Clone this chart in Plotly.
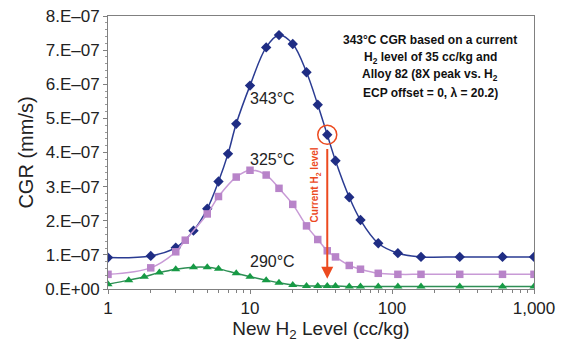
import math
import plotly.graph_objects as go

# ---- data (values of CGR in mm/s) ----
h2_343 = [1, 2, 3, 4, 5, 6, 7, 8, 10, 13, 16, 20, 25, 30, 35, 40, 50, 60, 80, 110, 160, 300, 600, 1000]
cgr_343 = [0.92e-7, 0.97e-7, 1.21e-7, 1.71e-7, 2.35e-7, 3.15e-7, 3.96e-7, 4.84e-7, 5.96e-7, 7.08e-7,
           7.44e-7, 7.18e-7, 6.35e-7, 5.40e-7, 4.52e-7, 3.76e-7, 2.69e-7, 2.02e-7, 1.34e-7, 1.05e-7,
           0.94e-7, 0.94e-7, 0.94e-7, 0.94e-7]

h2_325 = [1, 2, 3, 3.5, 5, 6, 8, 10, 13, 16, 20, 25, 30, 35, 40, 50, 60, 80, 110, 160, 300, 600, 1000]
cgr_325 = [0.43e-7, 0.62e-7, 1.09e-7, 1.43e-7, 2.20e-7, 2.71e-7, 3.28e-7, 3.48e-7, 3.34e-7, 2.95e-7,
           2.48e-7, 1.85e-7, 1.45e-7, 1.12e-7, 0.94e-7, 0.69e-7, 0.58e-7, 0.46e-7, 0.43e-7, 0.43e-7,
           0.43e-7, 0.43e-7, 0.43e-7]

h2_290 = [1, 1.4, 1.8, 2.3, 3, 4, 5, 6, 8, 10, 13, 16, 20, 25, 30, 35, 40, 50, 60, 80, 110, 160, 300, 600, 1000]
cgr_290 = [0.14e-7, 0.26e-7, 0.36e-7, 0.48e-7, 0.58e-7, 0.64e-7, 0.64e-7, 0.59e-7, 0.46e-7, 0.36e-7,
           0.26e-7, 0.18e-7, 0.12e-7, 0.09e-7, 0.09e-7, 0.09e-7, 0.09e-7, 0.07e-7, 0.07e-7, 0.07e-7,
           0.07e-7, 0.07e-7, 0.07e-7, 0.07e-7, 0.07e-7]

current_h2 = 35

y_tickvals = [0, 1e-7, 2e-7, 3e-7, 4e-7, 5e-7, 6e-7, 7e-7, 8e-7]
y_ticktext = ["0.E+00", "1.E\u201307", "2.E\u201307", "3.E\u201307", "4.E\u201307",
              "5.E\u201307", "6.E\u201307", "7.E\u201307", "8.E\u201307"]
x_tickvals = [1, 10, 100, 1000]
x_ticktext = ["1", "10", "100", "1,000"]

note_lines = ["343°C CGR based on a current",
              "H<sub>2</sub> level of 35 cc/kg and",
              "Alloy 82 (8X peak vs. H<sub>2</sub>",
              "ECP offset = 0, \u03bb = 20.2)"]

FONT = "Liberation Sans, Arial, sans-serif"
BLUE = "#1f2d84"
PINK = "#b884c9"
GREEN = "#179a45"
RED = "#ec4a1f"

fig = go.Figure()
fig.add_trace(go.Scatter(x=h2_343, y=cgr_343, mode="lines+markers",
                         line=dict(color="#2a3b92", width=1.5, shape="spline", smoothing=1),
                         marker=dict(symbol="diamond", size=8, color=BLUE)))
fig.add_trace(go.Scatter(x=h2_325, y=cgr_325, mode="lines+markers",
                         line=dict(color="#c89ad6", width=1.5, shape="spline", smoothing=1),
                         marker=dict(symbol="square", size=7.5, color=PINK)))
fig.add_trace(go.Scatter(x=h2_290, y=cgr_290, mode="lines+markers",
                         line=dict(color="#2e8f55", width=1.5, shape="spline", smoothing=1),
                         marker=dict(symbol="triangle-up", size=8, color=GREEN)))
# red circle highlighting the current H2 level point
cur_val = cgr_343[h2_343.index(current_h2)]
fig.add_trace(go.Scatter(x=[current_h2], y=[cur_val], mode="markers",
                         marker=dict(symbol="circle-open", size=19, color=RED, line=dict(width=1.5, color=RED))))

lx = math.log10
# series labels
for txt, yv in [("343°C", 5.58e-7), ("325°C", 3.8e-7), ("290°C", 0.8e-7)]:
    fig.add_annotation(x=lx(14.3), y=yv, xref="x", yref="y", text=txt, showarrow=False,
                       font=dict(family=FONT, size=16, color="#222"), xanchor="center", yanchor="middle")

# note block
for i, line in enumerate(note_lines):
    fig.add_annotation(x=0.756, y=(289 - (40 + 17.6 * i)) / 273, xref="paper", yref="paper",
                       text="<b>" + line + "</b>", showarrow=False,
                       font=dict(family=FONT, size=12, color="#111"), xanchor="center", yanchor="middle")

# current H2 arrow
fig.add_annotation(x=lx(current_h2), y=0.30e-7, xref="x", yref="y",
                   ax=lx(current_h2), ay=4.15e-7, axref="x", ayref="y",
                   showarrow=True, arrowhead=2, arrowsize=1.2, arrowwidth=2, arrowcolor=RED, text="")
fig.add_annotation(x=0.487, y=0.381, xref="paper", yref="paper",
                   text="<b>Current H<sub>2</sub> level</b>", textangle=-90, showarrow=False,
                   font=dict(family=FONT, size=10, color=RED), xanchor="center", yanchor="middle")

fig.update_layout(
    width=563, height=343,
    margin=dict(l=108, r=29, t=16, b=54),
    paper_bgcolor="white", plot_bgcolor="white",
    showlegend=False,
    font=dict(family=FONT, color="#222"),
    xaxis=dict(type="log", range=[0, 3], tickvals=x_tickvals, ticktext=x_ticktext,
               showgrid=False, zeroline=False, showline=True, linecolor="#808080", linewidth=1,
               mirror=True, ticks="outside", ticklen=4, tickcolor="#808080",
               minor=dict(ticks="outside", ticklen=3, tickcolor="#808080", dtick="D1", showgrid=False),
               tickfont=dict(family=FONT, size=17, color="#222"),
               title=dict(text="New H<sub>2</sub> Level (cc/kg)", font=dict(family=FONT, size=19, color="#222"),
                          standoff=2),
               automargin=False),
    yaxis=dict(range=[0, 8e-7], tickvals=y_tickvals, ticktext=y_ticktext,
               showgrid=False, zeroline=False, showline=True, linecolor="#808080", linewidth=1,
               mirror=True, ticks="outside", ticklen=4, tickcolor="#808080",
               minor=dict(ticks="outside", ticklen=2, tickcolor="#999", dtick=0.2e-7, showgrid=False),
               tickfont=dict(family=FONT, size=17, color="#222"),
               title=dict(text="CGR (mm/s)", font=dict(family=FONT, size=20, color="#222"), standoff=6),
               automargin=False),
)

fig.write_html("out.html", config={"displayModeBar": False},
               post_script="document.body.style.margin='0';document.body.style.overflow='hidden';")
